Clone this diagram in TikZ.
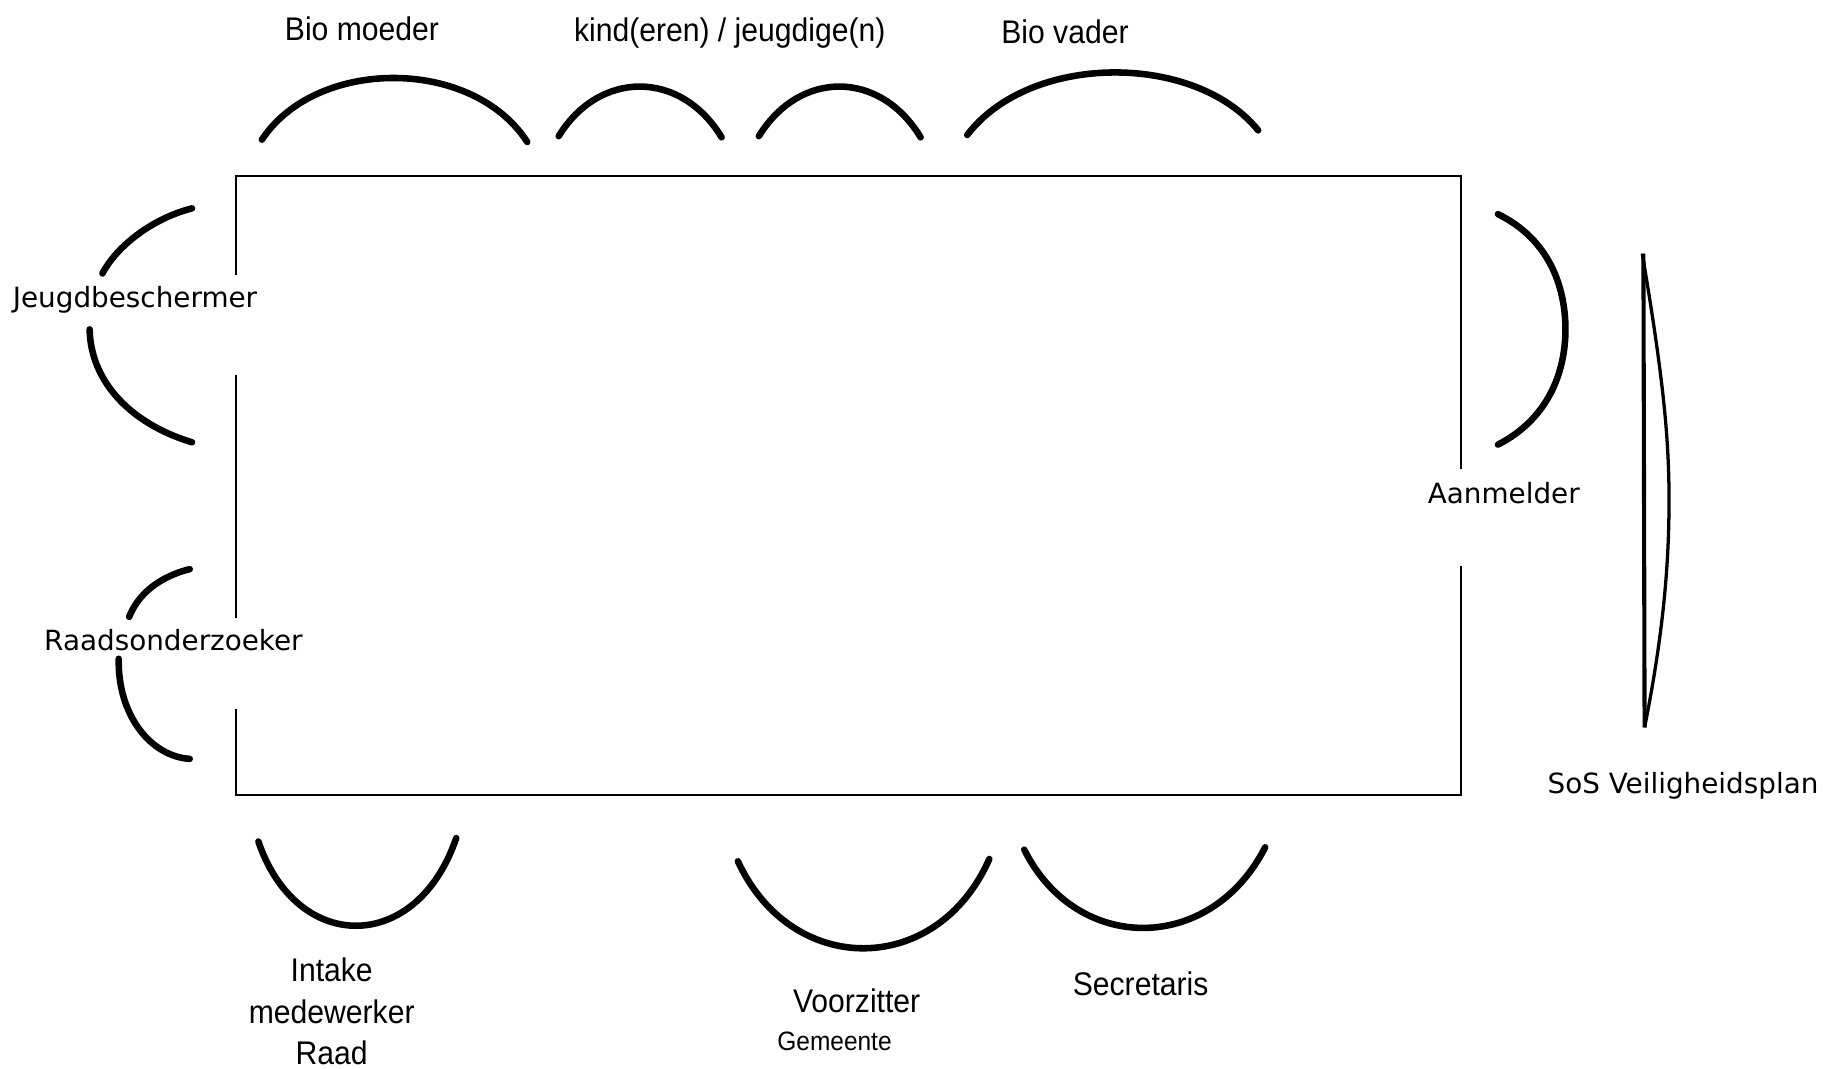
\documentclass[tikz,border=0pt]{standalone}
\usepackage{fontspec}
\setmainfont{Liberation Sans}
\newfontfamily\narrowfont{Liberation Sans}[FakeStretch = 0.92]
\newfontfamily\widefont{DejaVu Sans}

\begin{document}
\begin{tikzpicture}[x = 0.01cm, y = -0.01cm,
	seat/.style = {line width = 1.6pt, line cap = round},
	narrow/.style = {font = \narrowfont\fontsize{8}{10.2}\selectfont, inner sep = 0pt},
	wide/.style = {font = \widefont\fontsize{6.8}{8}\selectfont, inner sep = 0pt}]

	% Frame
	
	\useasboundingbox (0, 0) rectangle (1568, 918);

	% The table
	
	\begin{scope}[line width = 0.5pt]
		\draw (203, 236) -- (203, 151) -- (1255, 151) -- (1255, 403);
		\draw (1255, 486) -- (1255, 683) -- (203, 683) -- (203, 609);
		\draw (203, 531) -- (203, 322);
	\end{scope}
	
	% Seats on top
	
	\begin{scope}[seat]
		\draw (225, 120) .. controls (272, 49) and (406, 49) .. (453, 122);
		\draw (480, 117) .. controls (515, 60) and (585, 60) .. (620, 118);
		\draw (652, 117) .. controls (687, 60) and (756, 60) .. (791, 118);
		\draw (831, 116) .. controls (885, 45) and (1027, 45) .. (1081, 112);
	\end{scope}
	
	\node [narrow] (moeder) at (311, 25) {Bio moeder};
	\node [narrow] (kind) at (627, 28) {kind(eren) / jeugdige(n)};
	\node [narrow] (vader) at (915, 27) {Bio vader};
	
	% Seats on the left
	
	\begin{scope}[seat]
		\draw (165, 179) .. controls (130, 188) and (100, 212) .. (88, 235);
		\draw (77, 283) .. controls (78, 330) and (115, 365) .. (165, 380);
		\draw (163, 489) .. controls (135, 496) and (118, 512) .. (111, 530);
		\draw (102, 566) .. controls (101, 615) and (130, 650) .. (163, 652);
	\end{scope}
	
	\node [wide] (jeugd) at (116, 258) {Jeugdbeschermer};
	\node [wide] (raads) at (149, 550) {Raadsonderzoeker};
	
	% Seat on the right and the plan
	
	\draw [seat] (1287, 184) .. controls (1330, 205) and (1345, 245) .. (1345, 283)
		.. controls (1345, 320) and (1330, 360) .. (1287, 382);
	\node [wide] (aanmelder) at (1292, 424) {Aanmelder};
	
	\draw [line width = 1pt] (1412, 218) -- (1413, 625);
	\draw [line width = 0.8pt] (1411, 218) .. controls (1430, 330) and (1434, 380) .. (1434, 430)
		.. controls (1434, 480) and (1430, 540) .. (1413, 625);
	\node [wide] (plan) at (1446, 675) {SoS Veiligheidsplan};
	
	% Seats at the bottom
	
	\begin{scope}[seat]
		\draw (222, 723) .. controls (255, 820) and (358, 820) .. (392, 720);
		\draw (634, 740) .. controls (680, 840) and (805, 840) .. (850, 738);
		\draw (880, 730) .. controls (925, 820) and (1040, 820) .. (1087, 728);
	\end{scope}
	
	\node [narrow, align = center] (intake) at (285, 869) {Intake\\medewerker\\Raad};
	\node [narrow] (voorzitter) at (736, 860) {Voorzitter};
	\node [narrow, font = \narrowfont\fontsize{6.5}{8}\selectfont] (gemeente) at (717, 895) {Gemeente};
	\node [narrow] (secretaris) at (980, 845) {Secretaris};

\end{tikzpicture}
\end{document}
